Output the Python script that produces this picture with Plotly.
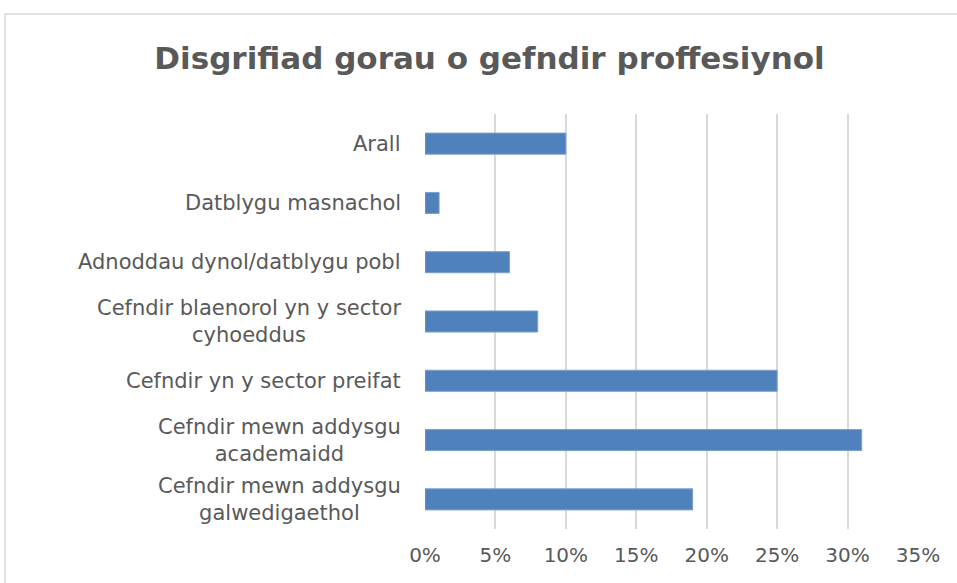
import plotly.graph_objects as go

categories = [
    "Cefndir mewn addysgu<br>galwedigaethol",
    "Cefndir mewn addysgu<br>academaidd",
    "Cefndir yn y sector preifat",
    "Cefndir blaenorol yn y sector<br>cyhoeddus",
    "Adnoddau dynol/datblygu pobl",
    "Datblygu masnachol",
    "Arall",
]
values = [0.19, 0.31, 0.25, 0.08, 0.06, 0.01, 0.10]
x_ticks = [0, 0.05, 0.10, 0.15, 0.20, 0.25, 0.30, 0.35]
x_tick_labels = ["0%", "5%", "10%", "15%", "20%", "25%", "30%", "35%"]

W, H = 957, 583
ml, mr, mt, mb = 425, 39, 114, 54
pw = W - ml - mr
ph = H - mt - mb

fig = go.Figure(go.Bar(
    x=values, y=categories, orientation="h",
    marker=dict(color="#4f81bd", line=dict(color="#7aa0d0", width=1)),
    hoverinfo="x+y",
))

font_family = "DejaVu Sans"
txt = "#595959"

def px_to_paper_x(px):
    return (px - ml) / pw

def px_to_paper_y(py):
    return (H - mb - py) / ph

# centred multi-line category labels, placed on the category axis
annotations = [
    dict(
        x=px_to_paper_x(403), xref="paper", xanchor="right",
        y=c, yref="y", yanchor="middle",
        text=c, showarrow=False, align="center",
        font=dict(family=font_family, size=21, color=txt),
    )
    for c in categories
]

fig.update_layout(
    width=W, height=H,
    margin=dict(l=ml, r=mr, t=mt, b=mb),
    paper_bgcolor="white", plot_bgcolor="white",
    bargap=0.645,
    showlegend=False,
    title=dict(
        text="<b>Disgrifiad gorau o gefndir proffesiynol</b>",
        font=dict(family=font_family, size=31, color=txt),
        x=489.5 / W, xref="container", xanchor="center",
        y=1 - 58 / H, yref="container", yanchor="middle",
    ),
    xaxis=dict(
        range=[0, 0.35], tickvals=x_ticks, ticktext=x_tick_labels,
        showgrid=True, gridcolor="#d9d9d9", gridwidth=1.5,
        zeroline=False, showline=False, ticks="",
        tickfont=dict(family=font_family, size=20, color=txt),
        ticklabelstandoff=12,
    ),
    yaxis=dict(
        showgrid=False, zeroline=False, showline=False, ticks="",
        showticklabels=False,
    ),
    annotations=annotations,
    shapes=[dict(
        type="rect", xref="paper", yref="paper",
        x0=px_to_paper_x(5), x1=px_to_paper_x(1000),
        y0=px_to_paper_y(700), y1=px_to_paper_y(14),
        line=dict(color="#d9d9d9", width=1.5), fillcolor="rgba(0,0,0,0)",
        layer="below",
    )],
)

fig.write_html("out.html")
